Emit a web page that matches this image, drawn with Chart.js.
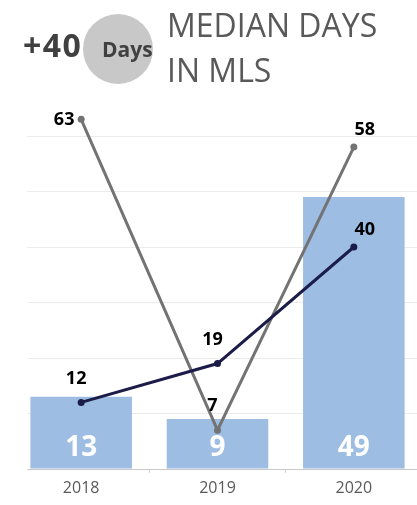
<!DOCTYPE html>
<html>
<head>
<meta charset="utf-8">
<script src="https://cdn.jsdelivr.net/npm/chart.js@4"></script>
<style>
  html, body { margin: 0; padding: 0; background: #fff; width: 417px; height: 505px; overflow: hidden; }
  #wrap { position: absolute; left: 0; top: 0; width: 426px; height: 505px; }
  .t { position: absolute; font-family: "Open Sans", sans-serif; white-space: nowrap; line-height: 1; }
  #circle { position: absolute; left: 83px; top: 14px; width: 70px; height: 70px; border-radius: 50%; background: #c8c8c8; }
</style>
</head>
<body>
<div id="wrap"><canvas id="c"></canvas></div>
<div id="circle"></div>
<div class="t" style="left:23px; top:29px; font-size:32px; font-weight:700; letter-spacing:1.5px; color:#404040;">+40</div>
<div class="t" style="left:102px; top:39px; font-size:21px; font-weight:700; color:#404040;">Days</div>
<div class="t" style="left:167px; top:9px; font-size:32px; color:#595959;">MEDIAN DAYS</div>
<div class="t" style="left:167px; top:54px; font-size:32px; color:#595959;">IN MLS</div>
<script>
const categories = ['2018', '2019', '2020'];
const barValues = [13, 9, 49];
const grayLineValues = [63, 7, 58];
const darkLineValues = [12, 19, 40];
const grayLabelPlacement = ['left', 'above', 'aboveRight'];
const darkLabelPlacement = ['above', 'above', 'aboveRight'];

const placementOffsets = {
  left: [-17, 1],
  above: [-5, -24],
  aboveRight: [11, -17]
};

const labelPlugin = {
  id: 'labels',
  beforeDatasetsDraw(chart) {
    // trim the grid/baseline left of the first bar, as in the reference
    const bars = chart.getDatasetMeta(0).data;
    if (!bars.length) return;
    const cut = bars[0].x - bars[0].width / 2 - 3;
    const ctx = chart.ctx;
    const a = chart.chartArea;
    ctx.save();
    ctx.fillStyle = '#fff';
    ctx.fillRect(0, a.top - 2, cut, a.bottom - a.top + 10);
    ctx.restore();
  },
  afterDatasetsDraw(chart) {
    const ctx = chart.ctx;
    ctx.save();
    ctx.textAlign = 'center';
    ctx.textBaseline = 'middle';
    chart.data.datasets.forEach((ds, di) => {
      const meta = chart.getDatasetMeta(di);
      meta.data.forEach((el, i) => {
        const v = ds.data[i];
        if (ds.type === 'bar') {
          ctx.fillStyle = '#ffffff';
          ctx.font = 'bold 28px "Open Sans", sans-serif';
          ctx.fillText(String(v), el.x, el.base - 20);
        } else {
          const off = placementOffsets[ds.labelPlacement[i]];
          ctx.fillStyle = '#000000';
          ctx.font = 'bold 18px "Open Sans", sans-serif';
          ctx.fillText(String(v), el.x + off[0], el.y + off[1]);
        }
      });
    });
    ctx.restore();
  }
};

new Chart(document.getElementById('c'), {
  data: {
    labels: categories,
    datasets: [
      {
        type: 'bar',
        data: barValues,
        backgroundColor: '#9dbde3',
        categoryPercentage: 1,
        barPercentage: 0.745,
        order: 3
      },
      {
        type: 'line',
        data: grayLineValues,
        labelPlacement: grayLabelPlacement,
        borderColor: '#737373',
        backgroundColor: '#737373',
        borderWidth: 3,
        pointRadius: 3.5,
        pointBorderWidth: 0,
        tension: 0,
        order: 2
      },
      {
        type: 'line',
        data: darkLineValues,
        labelPlacement: darkLabelPlacement,
        borderColor: '#1c1c48',
        backgroundColor: '#1c1c48',
        borderWidth: 3,
        pointRadius: 3.5,
        pointBorderWidth: 0,
        tension: 0,
        order: 1
      }
    ]
  },
  options: {
    responsive: true,
    maintainAspectRatio: false,
    animation: false,
    layout: { padding: { left: 13, right: 0, top: 80.5, bottom: 0 } },
    plugins: { legend: { display: false }, tooltip: { enabled: false } },
    scales: {
      x: {
        type: 'category',
        offset: true,
        grid: { offset: true, drawOnChartArea: false, drawTicks: true, tickLength: 4, color: '#d9d9d9' },
        border: { color: '#c8c8c8', width: 1 },
        ticks: { color: '#595959', font: { family: '"Open Sans", sans-serif', size: 16 }, padding: 6 },
        afterFit: s => { s.height = 36; }
      },
      y: {
        min: 0,
        max: 70,
        ticks: { display: false, stepSize: 10 },
        border: { display: false },
        grid: { color: c => (c.tick && c.tick.value > 60) ? 'rgba(0,0,0,0)' : '#ebebeb', drawTicks: false },
        afterFit: s => { s.width = 0; }
      }
    }
  },
  plugins: [labelPlugin]
});
</script>
</body>
</html>
